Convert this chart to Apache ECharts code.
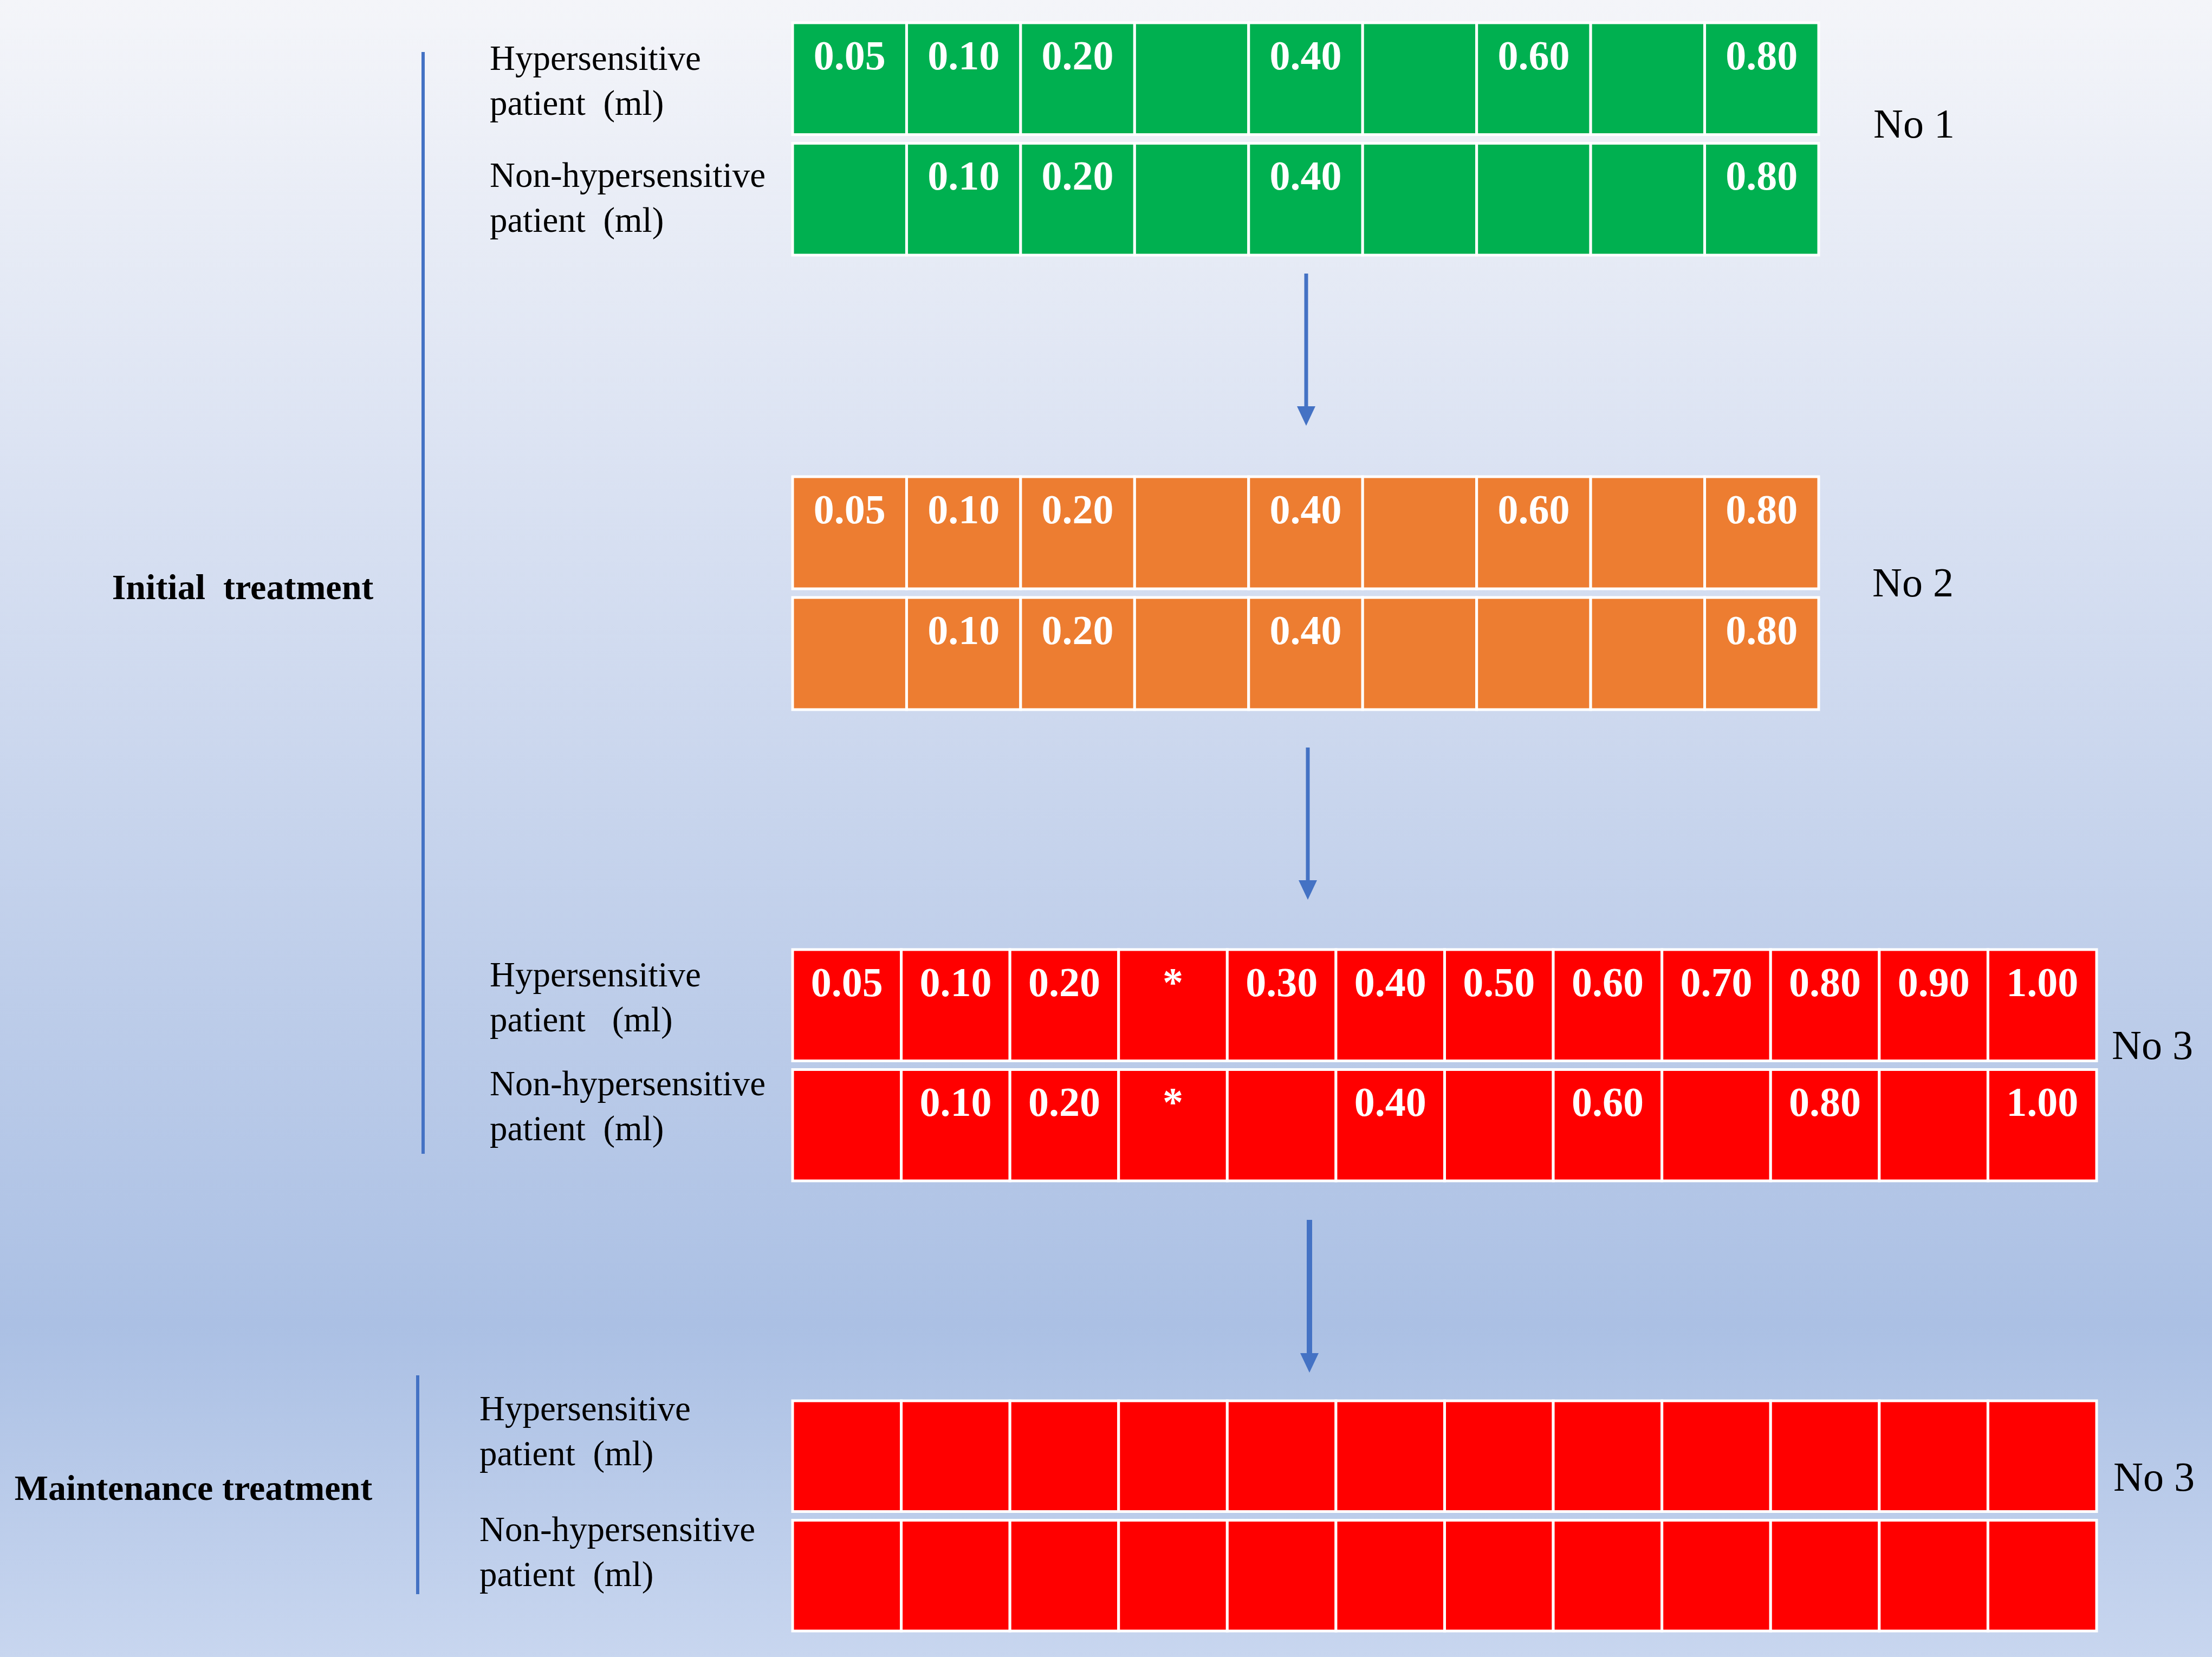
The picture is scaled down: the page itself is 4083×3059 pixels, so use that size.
<!DOCTYPE html>
<html>
<head>
<meta charset="utf-8">
<script src="https://cdn.jsdelivr.net/npm/echarts@6/dist/echarts.min.js"></script>
<style>
  html, body { margin: 0; padding: 0; }
  #chart { width: 4083px; height: 3059px; }
</style>
</head>
<body>
<div id="chart"></div>
<script>
// dose columns per step (ml)
var cols9 = ['c1','c2','c3','c4','c5','c6','c7','c8','c9'];
var cols12 = ['c1','c2','c3','c4','c5','c6','c7','c8','c9','c10','c11','c12'];
var rowsLabeled = ['Hypersensitive\npatient  (ml)', 'Non-hypersensitive\npatient  (ml)'];
var rowsNo3 = ['Hypersensitive\npatient   (ml)', 'Non-hypersensitive\npatient  (ml)'];
var rowsPlain = ['', ''];

var no1Hyper = ['0.05','0.10','0.20','','0.40','','0.60','','0.80'];
var no1Non   = ['','0.10','0.20','','0.40','','','','0.80'];
var no2Hyper = ['0.05','0.10','0.20','','0.40','','0.60','','0.80'];
var no2Non   = ['','0.10','0.20','','0.40','','','','0.80'];
var no3Hyper = ['0.05','0.10','0.20','*','0.30','0.40','0.50','0.60','0.70','0.80','0.90','1.00'];
var no3Non   = ['','0.10','0.20','*','','0.40','','0.60','','0.80','','1.00'];
var maintHyper = ['','','','','','','','','','','',''];
var maintNon   = ['','','','','','','','','','','',''];

var serif = '"Liberation Serif", "Times New Roman", serif';

// pad: vertical nudge of the row captions, [space above, space below]
var blocks = [
  { rows: [no1Hyper, no1Non], cats: cols9, names: rowsLabeled, pad: [[16, 0], [4, 0]], color: '#00b050', left: 1463, top: 34, width: 1894, height: 445, margin: 559, labels: true },
  { rows: [no2Hyper, no2Non], cats: cols9, names: rowsPlain, pad: [[0, 0], [0, 0]], color: '#ed7d31', left: 1463, top: 872, width: 1894, height: 446, margin: 559, labels: false },
  { rows: [no3Hyper, no3Non], cats: cols12, names: rowsNo3, pad: [[0, 20], [0, 62]], color: '#ff0000', left: 1463, top: 1745, width: 2407, height: 443, margin: 559, labels: true },
  { rows: [maintHyper, maintNon], cats: cols12, names: rowsLabeled, pad: [[0, 84], [0, 78]], color: '#ff0000', left: 1463, top: 2578, width: 2407, height: 441, margin: 578, labels: true }
];

function cellData(rows) {
  var out = [];
  rows.forEach(function (r, ri) {
    r.forEach(function (v, ci) { out.push([ci, ri]); });
  });
  return out;
}

function makeRender(block) {
  return function (params, api) {
    var ci = api.value(0), ri = api.value(1);
    var c = api.coord([ci, ri]);
    var s = api.size([1, 1]);
    var w = s[0], h = s[1], gy = 8;
    var top = c[1] - h / 2 + gy;
    return {
      type: 'group',
      children: [
        { type: 'rect',
          shape: { x: c[0] - w / 2, y: top, width: w, height: h - 2 * gy },
          style: { fill: block.color, stroke: '#ffffff', lineWidth: 5 } },
        { type: 'text',
          style: { text: block.rows[ri][ci], x: c[0], y: top + 66,
                   textAlign: 'center', textVerticalAlign: 'middle',
                   fill: '#ffffff', font: 'bold 76px ' + serif } }
      ]
    };
  };
}

function captionFormatter(b) {
  return function (value, idx) {
    var p = b.pad[idx], s = value;
    if (p[0]) s = '{a' + idx + '| }\n' + s;
    if (p[1]) s = s + '\n{b' + idx + '| }';
    return s;
  };
}

function captionRich(b) {
  var r = {};
  b.pad.forEach(function (p, k) {
    r['a' + k] = { lineHeight: p[0], fontSize: 1 };
    r['b' + k] = { lineHeight: p[1], fontSize: 1 };
  });
  return r;
}

var grids = [], xAxes = [], yAxes = [], series = [];
blocks.forEach(function (b, i) {
  grids.push({ left: b.left, top: b.top, width: b.width, height: b.height });
  xAxes.push({ type: 'category', gridIndex: i, data: b.cats, show: false });
  yAxes.push({
    type: 'category', gridIndex: i, inverse: true, data: b.names,
    axisLine: { show: false }, axisTick: { show: false }, splitLine: { show: false },
    axisLabel: { show: b.labels, interval: 0, hideOverlap: false, align: 'left', margin: b.margin,
                 color: '#000', fontFamily: serif, fontSize: 65, lineHeight: 83,
                 formatter: captionFormatter(b), rich: captionRich(b) }
  });
  series.push({
    type: 'custom', xAxisIndex: i, yAxisIndex: i,
    renderItem: makeRender(b), data: cellData(b.rows), silent: true
  });
});

function arrow(x, y1, y2, lw) {
  return {
    type: 'group', silent: true,
    children: [
      { type: 'line', shape: { x1: x, y1: y1, x2: x, y2: y2 - 30 },
        style: { stroke: '#4472c4', lineWidth: lw } },
      { type: 'polygon', shape: { points: [[x - 17, y2 - 36], [x + 17, y2 - 36], [x, y2]] },
        style: { fill: '#4472c4' } }
    ]
  };
}

function label(text, x, y, bold, size, align) {
  return { type: 'text', silent: true, x: x, y: y,
    style: { text: text, fill: '#000', textAlign: align || 'left', textVerticalAlign: 'middle',
             font: (bold ? 'bold ' : '') + size + 'px ' + serif } };
}

var chart = echarts.init(document.getElementById('chart'));
chart.setOption({
  animation: false,
  backgroundColor: {
    type: 'linear', x: 0, y: 0, x2: 0, y2: 1,
    colorStops: [
      { offset: 0, color: '#f4f5f9' },
      { offset: 0.3, color: '#d9e1f2' },
      { offset: 0.8, color: '#abc0e4' },
      { offset: 1, color: '#c8d6ef' }
    ]
  },
  grid: grids,
  xAxis: xAxes,
  yAxis: yAxes,
  series: series,
  graphic: [
    { type: 'line', silent: true, shape: { x1: 781, y1: 96, x2: 781, y2: 2130 },
      style: { stroke: '#4472c4', lineWidth: 6 } },
    { type: 'line', silent: true, shape: { x1: 771, y1: 2539, x2: 771, y2: 2943 },
      style: { stroke: '#4472c4', lineWidth: 6 } },
    arrow(2411, 505, 786, 7),
    arrow(2414, 1380, 1661, 7),
    arrow(2417, 2252, 2534, 10),
    label('Initial  treatment', 448, 1089, true, 66, 'center'),
    label('Maintenance treatment', 357, 2752, true, 66, 'center'),
    label('No 1', 3458, 234, false, 76),
    label('No 2', 3456, 1081, false, 76),
    label('No 3', 3898, 1935, false, 76),
    label('No 3', 3901, 2732, false, 76)
  ]
});
</script>
</body>
</html>
